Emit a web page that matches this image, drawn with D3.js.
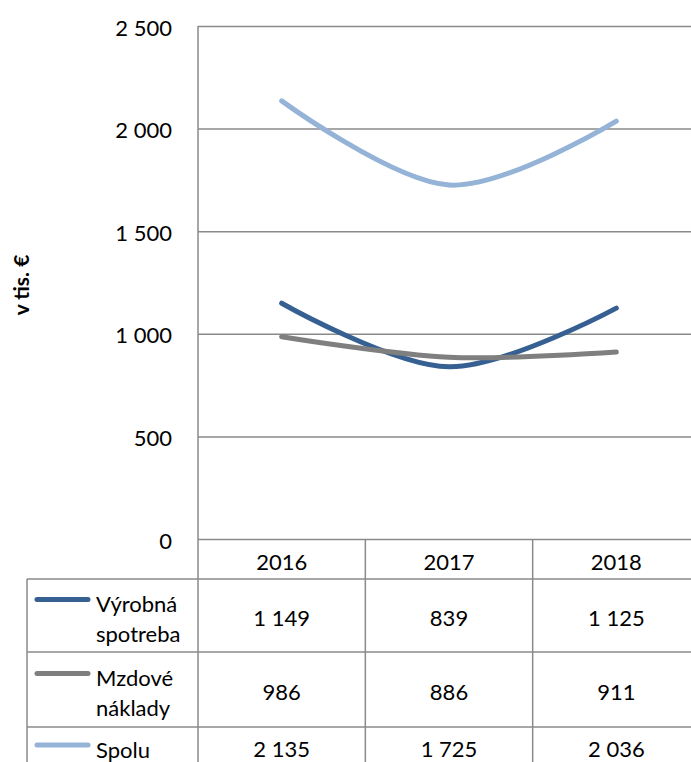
<!DOCTYPE html>
<html>
<head>
<meta charset="utf-8">
<script src="https://cdn.jsdelivr.net/npm/d3@7"></script>
<style>
  body { margin: 0; background: #fff; }
  svg text { font-family: Lato, "Open Sans", sans-serif; fill: #000; }
</style>
</head>
<body>
<div id="chart"></div>
<script>
// data
var years = ["2016", "2017", "2018"];
var vyrobna = [1149, 839, 1125];
var mzdove = [986, 886, 911];
var spolu = [2135, 1725, 2036];
var seriesNames = [["Výrobná", "spotreba"], ["Mzdové", "náklady"], ["Spolu"]];
var seriesColors = ["#376092", "#7f7f7f", "#95b3d7"];
var yTicks = [0, 500, 1000, 1500, 2000, 2500];

var W = 691, H = 762;
var plotLeft = 198, plotRight = 700, plotTop = 26, plotBottom = 539;
var rowTops = [579, 652, 727], rowBottoms = [652, 727, 765];
var gridColor = "#8a8a8a";

var svg = d3.select("#chart")
  .append("svg")
    .attr("width", W)
    .attr("height", H);

var x = d3.scaleBand().domain(years).range([plotLeft, plotRight]);
var y = d3.scaleLinear().domain([0, 2500]).range([plotBottom, plotTop]);

var fmt = d3.formatLocale({decimal: ",", thousands: " ", grouping: [3], currency: ["", ""]}).format(",d");

// gridlines
var grid = svg.append("g")
  .attr("transform", "translate(" + plotLeft + ",0)")
  .call(d3.axisLeft(y).tickValues(yTicks).tickSize(-(plotRight - plotLeft)).tickFormat(""));
grid.select(".domain").remove();
grid.selectAll("line").attr("stroke", gridColor).attr("stroke-width", 1.5);

// tick labels
svg.selectAll(".ylab")
  .data(yTicks)
  .enter()
  .append("text")
    .attr("x", 172)
    .attr("y", function(d) { return y(d) + 1; })
    .attr("text-anchor", "end")
    .attr("dominant-baseline", "central")
    .style("font-size", "22px")
    .text(function(d) { return fmt(d); });

// y title
svg.append("text")
  .attr("transform", "translate(20," + 285 + ") rotate(-90)")
  .attr("text-anchor", "middle")
  .attr("dominant-baseline", "central")
  .style("font-size", "21px")
  .style("font-weight", "bold")
  .text("v tis. €");

// table lines
var tbl = svg.append("g").attr("stroke", gridColor).attr("stroke-width", 1.5);
tbl.append("line").attr("x1", plotLeft).attr("x2", plotLeft).attr("y1", plotTop).attr("y2", H + 10);
years.slice(1).forEach(function(yr) {
  tbl.append("line").attr("x1", x(yr)).attr("x2", x(yr)).attr("y1", plotBottom).attr("y2", H + 10);
});
tbl.append("line").attr("x1", 27).attr("x2", 27).attr("y1", rowTops[0]).attr("y2", H + 10);
rowTops.forEach(function(t) {
  tbl.append("line").attr("x1", 27).attr("x2", plotRight).attr("y1", t).attr("y2", t);
});

// header
svg.selectAll(".yr")
  .data(years)
  .enter()
  .append("text")
    .attr("x", function(d) { return x(d) + x.bandwidth() / 2; })
    .attr("y", 561)
    .attr("text-anchor", "middle")
    .attr("dominant-baseline", "central")
    .style("font-size", "22px")
    .text(function(d) { return d; });

// lines
var allSeries = [vyrobna, mzdove, spolu];
var line = d3.line()
  .x(function(d, i) { return x(years[i]) + x.bandwidth() / 2; })
  .y(function(d) { return y(d); })
  .curve(d3.curveCardinal.tension(0));

svg.selectAll(".series")
  .data(allSeries)
  .enter()
  .append("path")
    .attr("fill", "none")
    .attr("stroke", function(d, i) { return seriesColors[i]; })
    .attr("stroke-width", 5)
    .attr("stroke-linecap", "round")
    .attr("d", line);

// table rows
allSeries.forEach(function(vals, r) {
  var t = rowTops[r], b = rowBottoms[r];
  var mid = (t + b) / 2;
  var names = seriesNames[r];
  var first = mid + 3 - (names.length - 1) * 15;

  svg.append("line")
    .attr("x1", 37).attr("x2", 88)
    .attr("y1", first - 4).attr("y2", first - 4)
    .attr("stroke", seriesColors[r])
    .attr("stroke-width", 5)
    .attr("stroke-linecap", "round");

  names.forEach(function(n, k) {
    svg.append("text")
      .attr("x", 96)
      .attr("y", first + k * 30)
      .attr("dominant-baseline", "central")
      .style("font-size", "22px")
      .text(n);
  });

  vals.forEach(function(v, i) {
    svg.append("text")
      .attr("x", x(years[i]) + x.bandwidth() / 2)
      .attr("y", mid + 2)
      .attr("text-anchor", "middle")
      .attr("dominant-baseline", "central")
      .style("font-size", "22px")
      .text(fmt(v));
  });
});
</script>
</body>
</html>
